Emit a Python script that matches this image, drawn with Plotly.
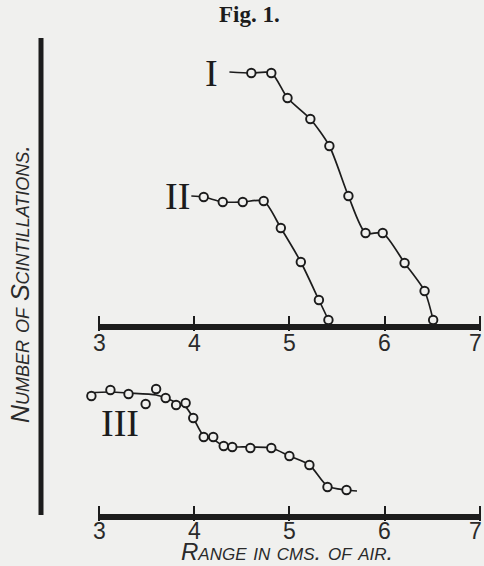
import plotly.graph_objects as go

# ---------------- data ----------------
# Curve I
I_x = [4.60, 4.81, 4.98, 5.22, 5.42, 5.62, 5.80, 5.98, 6.21, 6.42, 6.51]
I_y = [254, 254, 229, 208, 181, 131, 94, 94, 64, 36, 7]
I_line_x = [4.37] + I_x
I_line_y = [255] + I_y

# Curve II
II_x = [4.10, 4.30, 4.51, 4.73, 4.91, 5.12, 5.31, 5.41]
II_y = [130, 125, 125, 126, 99, 65, 27, 7]
II_line_x = [3.97] + II_x
II_line_y = [131] + II_y

# Curve III (observations)
III_x = [2.92, 3.12, 3.31, 3.49, 3.60, 3.70, 3.81, 3.91, 3.99, 4.10, 4.20,
         4.31, 4.40, 4.59, 4.81, 5.00, 5.21, 5.40, 5.60]
III_y = [121, 127, 123, 113, 128, 119, 112, 114, 99, 80, 80,
         71, 70, 69, 69, 61, 52, 30, 27]
# Curve III (hand-drawn smooth curve)
III_fit_x = [2.88, 3.12, 3.31, 3.60, 3.70, 3.82, 3.91, 3.99, 4.10, 4.21,
             4.31, 4.59, 4.81, 5.00, 5.21, 5.40, 5.60, 5.71]
III_fit_y = [124, 125, 124, 122, 119, 114, 110, 99, 81, 77,
             71, 70, 69, 61, 52, 31, 27, 26]

x_ticks = [3, 4, 5, 6, 7]
x_tick_labels = ["3", "4", "5", "6", "7"]

# ---------------- layout constants ----------------
W, H = 484, 566
BG = "#f0f0ee"
INK = "#1c1c1c"
PX_PER_UNIT = 95.2
X0_PX = 99            # pixel position of x = 3
x_lo = 3 - X0_PX / PX_PER_UNIT
x_hi = 3 + (W - X0_PX) / PX_PER_UNIT

# top panel: y=0 at pixel 327, bottom edge 331, top edge 40 (1 unit = 1 px)
top_zero, top_edge, top_top = 327, 331, 40
# bottom panel: y=0 at pixel 517, bottom edge 521, top edge 370
bot_zero, bot_edge, bot_top = 517, 521, 370

def dom(edge, top):
    return [(H - edge) / H, (H - top) / H]

fig = go.Figure()

line_style = dict(color=INK, width=1.7, shape="spline", smoothing=0.7)
marker_style = dict(size=8.5, color=BG, line=dict(color=INK, width=1.9))

fig.add_trace(go.Scatter(x=I_line_x, y=I_line_y, mode="lines", line=line_style,
                         xaxis="x", yaxis="y", hoverinfo="skip"))
fig.add_trace(go.Scatter(x=I_x, y=I_y, mode="markers", marker=marker_style,
                         xaxis="x", yaxis="y", cliponaxis=False))
fig.add_trace(go.Scatter(x=II_line_x, y=II_line_y, mode="lines", line=line_style,
                         xaxis="x", yaxis="y", hoverinfo="skip"))
fig.add_trace(go.Scatter(x=II_x, y=II_y, mode="markers", marker=marker_style,
                         xaxis="x", yaxis="y", cliponaxis=False))
fig.add_trace(go.Scatter(x=III_fit_x, y=III_fit_y, mode="lines",
                         line=dict(color=INK, width=1.7, shape="spline", smoothing=0.8),
                         xaxis="x2", yaxis="y2", hoverinfo="skip"))
fig.add_trace(go.Scatter(x=III_x, y=III_y, mode="markers", marker=marker_style,
                         xaxis="x2", yaxis="y2", cliponaxis=False))

xax = dict(range=[x_lo, x_hi], domain=[0, 1], showgrid=False, zeroline=False,
           showline=False, tickvals=x_ticks, showticklabels=False,
           ticks="inside", ticklen=15, tickwidth=2, tickcolor=INK)

fig.update_layout(
    width=W, height=H,
    margin=dict(l=0, r=0, t=0, b=0),
    paper_bgcolor=BG, plot_bgcolor="rgba(0,0,0,0)",
    showlegend=False,
    xaxis=dict(**xax, anchor="y"),
    xaxis2=dict(**xax, anchor="y2", matches="x"),
    yaxis=dict(range=[top_zero - top_edge, top_zero - top_top], domain=dom(top_edge, top_top),
               visible=False, anchor="x"),
    yaxis2=dict(range=[bot_zero - bot_edge, bot_zero - bot_top], domain=dom(bot_edge, bot_top),
                visible=False, anchor="x2"),
)

# thick horizontal axis lines from 3 to 7
for yref, xref in (("y", "x"), ("y2", "x2")):
    fig.add_shape(type="line", xref=xref, yref=yref, x0=x_ticks[0], x1=x_ticks[-1],
                  y0=0, y1=0, line=dict(color=INK, width=6))

# vertical axis bar
fig.add_shape(type="line", xref="paper", yref="paper",
              x0=41 / W, x1=41 / W, y0=(H - 515) / H, y1=(H - 38) / H,
              line=dict(color=INK, width=5))

tick_font = dict(family="Liberation Sans, Arial", size=23, color="#2a2a2a")
annotations = []
for xr, yr, shift in (("x", "y", -16), ("x2", "y2", -14)):
    for i, (t, lab) in enumerate(zip(x_ticks, x_tick_labels)):
        last = i == len(x_ticks) - 1
        annotations.append(dict(text=lab, x=t, y=0, xref=xr, yref=yr, showarrow=False,
                                xanchor="center", yanchor="middle", yshift=shift,
                                xshift=-4 if last else 0,
                                borderpad=0, font=tick_font))

annotations += [
    dict(text="<b>Fig. 1.</b>", xref="paper", yref="paper", x=250 / W, y=(H - 15) / H,
         showarrow=False, xanchor="center", yanchor="middle",
         font=dict(family="Liberation Serif, DejaVu Serif", size=23, color=INK)),
    dict(text="Range in cms. of air.", xref="paper", yref="paper", x=287 / W, y=0,
         showarrow=False, xanchor="center", yanchor="bottom", borderpad=0,
         font=dict(family="Liberation Sans, Arial", size=24, color="#2a2a2a",
                   style="italic", variant="small-caps")),
    dict(text="Number of Scintillations.", xref="paper", yref="paper", x=20 / W, y=(H - 284) / H,
         showarrow=False, xanchor="center", yanchor="middle", textangle=-90, borderpad=0,
         font=dict(family="Liberation Sans Narrow, Liberation Sans, Arial", size=25,
                   color="#2a2a2a", style="italic", variant="small-caps")),
]
roman_font = dict(family="Liberation Serif, serif", size=38, color=INK)
for txt, x, y, xr, yr in (("I", 4.18, 254, "x", "y"), ("II", 3.82, 131, "x", "y"),
                          ("III", 3.22, 94, "x2", "y2")):
    annotations.append(dict(text=txt, x=x, y=y, xref=xr, yref=yr, showarrow=False,
                            xanchor="center", yanchor="middle", font=roman_font))
fig.update_layout(annotations=annotations)

fig.write_html("out.html")
